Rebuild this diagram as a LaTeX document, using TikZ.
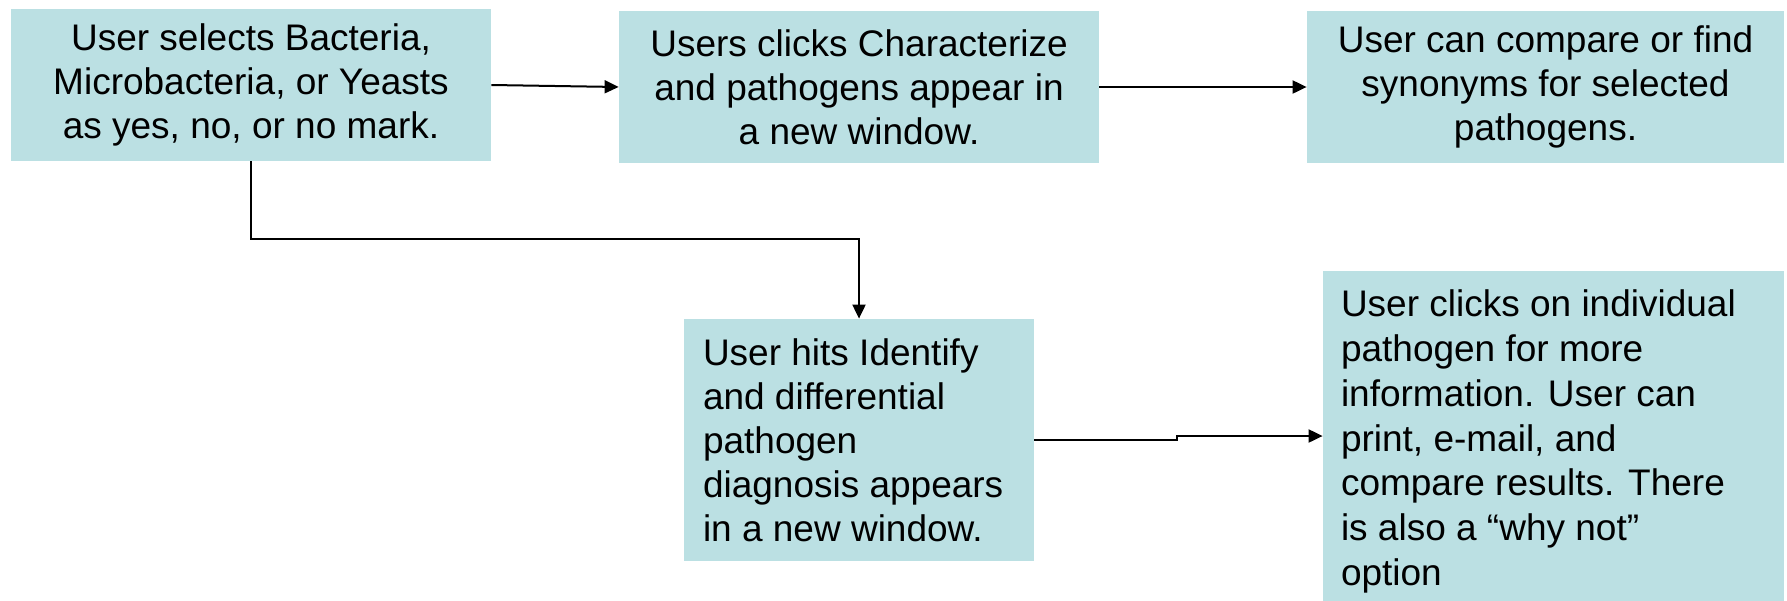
\documentclass[tikz,border=0pt]{standalone}
\usepackage{fontspec}
\setmainfont{Liberation Sans}
\usetikzlibrary{arrows.meta}
\definecolor{boxfill}{RGB}{187,224,227}
\begin{document}
\begin{tikzpicture}[x=0.5pt,y=-0.5pt,
  stepbox/.style={rectangle, fill=boxfill, draw=none, inner sep=0pt,
    font=\fontsize{18.5pt}{22pt}\selectfont},
  ctrbox/.style={stepbox, align=center},
  leftbox/.style={stepbox, align=left},
  arr/.style={draw=black, line width=1pt, -{Triangle[length=7pt,width=6.5pt]}}]
\useasboundingbox (0,0) rectangle (1787,600);
\node[ctrbox, minimum width=240pt, minimum height=76pt] (b1) at (251,85)
  {User selects Bacteria,\\Microbacteria, or Yeasts\\as yes, no, or no mark.};
\node[ctrbox, minimum width=240pt, minimum height=76pt] (b2) at (859,87)
  {Users clicks Characterize\\and pathogens appear in\\a new window.};
\node[ctrbox, minimum width=238.5pt, minimum height=76pt] (b3) at (1545.5,87)
  {User can compare or find\\synonyms for selected\\pathogens.};
\node[stepbox, minimum width=175pt, minimum height=121pt] (b4) at (859,440) {};
\node[leftbox, anchor=west] (t4) at ([xshift=9.5pt]b4.west)
  {User hits Identify\\and differential\\pathogen\\diagnosis appears\\in a new window.};
\node[stepbox, minimum width=230.5pt, minimum height=165pt] (b5) at (1553.5,436) {};
\node[leftbox, anchor=west, font=\fontsize{18.5pt}{22.35pt}\selectfont] (t5)
  at ([xshift=9pt,yshift=-2.75pt]b5.west)
  {User clicks on individual\\pathogen for more\\information. User can\\print, e-mail, and\\compare results. There\\is also a “why not”\\option};
\draw[arr] (b1.east) -- (b2.west);
\draw[arr] (b2.east) -- (b3.west);
\draw[arr] (b1.south) -- ++(0,78) -| (b4.north);
\draw[arr] (b4.east) -- ++(143,0) |- (b5.west);
\end{tikzpicture}
\end{document}
